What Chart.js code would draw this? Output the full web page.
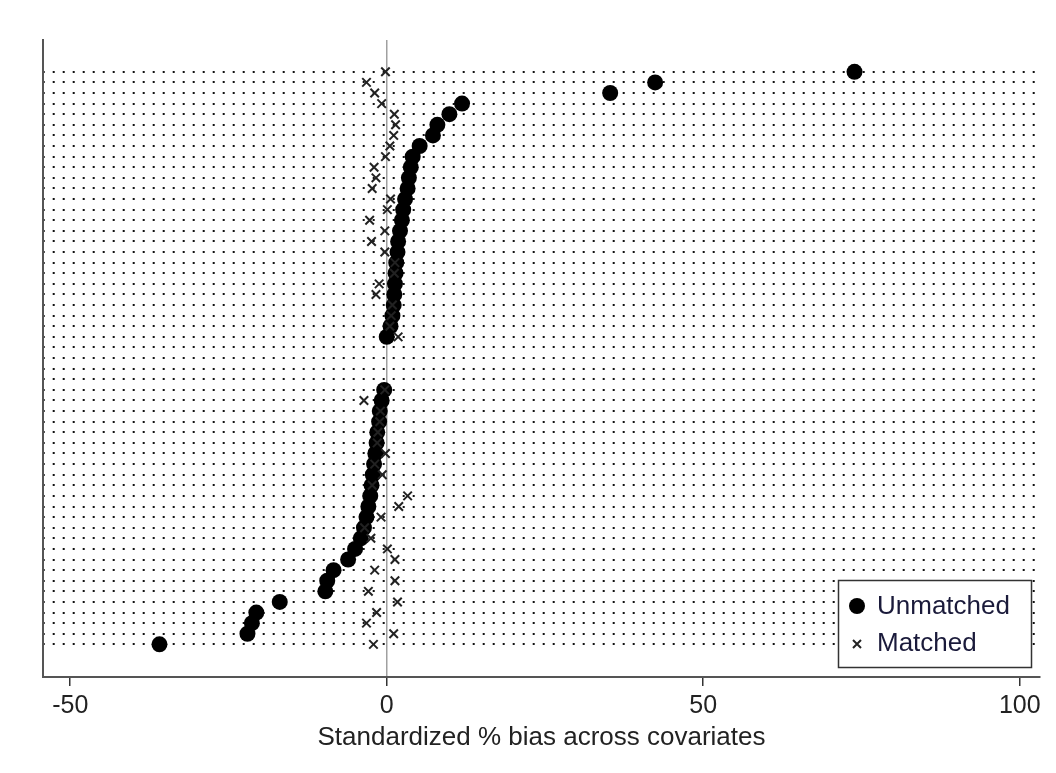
<!DOCTYPE html>
<html>
<head>
<meta charset="utf-8">
<script src="https://cdn.jsdelivr.net/npm/chart.js@4/dist/chart.umd.min.js"></script>
<style>
  body { margin: 0; background: #fff; }
  #wrap { width: 1056px; height: 773px; position: relative; }
</style>
</head>
<body>
<div id="wrap"><canvas id="bias"></canvas></div>
<script>
// standardized % bias per covariate, sorted as in the plot (top row first)
// null = row with no estimate
const unmatched = [73.9, 42.4, 35.3, 11.9, 9.9, 8.0, 7.3, 5.2, 4.1, 3.8,
  3.5, 3.3, 2.9, 2.6, 2.4, 2.1, 1.8, 1.7, 1.5, 1.4,
  1.3, 1.2, 1.1, 0.9, 0.6, 0.0,
  null, null, null, null,
  -0.4, -0.8, -1.1, -1.2, -1.5, -1.6, -1.8, -2.0, -2.2, -2.4,
  -2.6, -2.9, -3.2, -3.6, -4.1, -5.0, -6.1, -8.4, -9.4, -9.7,
  -16.9, -20.6, -21.3, -22.0, -35.9];
const matched = [-0.2, -3.2, -1.9, -0.8, 1.2, 1.4, 1.1, 0.5, -0.2, -2.0,
  -1.7, -2.3, 0.6, 0.1, -2.7, -0.3, -2.4, -0.3, 1.3, 1.2,
  -1.2, -1.7, 0.9, 0.7, 0.5, 1.8,
  null, null, null, null,
  -0.3, -3.6, -1.0, -1.1, -1.4, -1.5, -0.2, -1.9, -0.7, -2.3,
  3.3, 1.9, -0.9, -3.5, -2.5, 0.1, 1.3, -1.9, 1.3, -2.9,
  1.7, -1.6, -3.2, 1.1, -2.1];
const xTicks = [-50, 0, 50, 100];
const seriesNames = ['Unmatched', 'Matched'];
const xTitle = 'Standardized % bias across covariates';

const nRows = unmatched.length;
function toPoints(vals) {
  const pts = [];
  vals.forEach(function (v, i) {
    if (v !== null) pts.push({ x: v, y: nRows - i });
  });
  return pts;
}

Chart.defaults.font.family = '"Liberation Sans", Arial, sans-serif';
Chart.defaults.color = '#222';

// stata style legend box inside the plot region, bottom right
const boxLegend = {
  id: 'boxLegend',
  afterDraw(chart) {
    const ctx = chart.ctx;
    ctx.save();
    ctx.fillStyle = '#fff';
    ctx.fillRect(838, 580, 193, 87);
    ctx.strokeStyle = '#333';
    ctx.lineWidth = 1.5;
    ctx.strokeRect(838.5, 580.5, 193, 87);

    ctx.fillStyle = '#000';
    ctx.beginPath();
    ctx.arc(857, 606, 8, 0, Math.PI * 2);
    ctx.fill();

    ctx.strokeStyle = '#222';
    ctx.lineWidth = 2;
    ctx.beginPath();
    ctx.moveTo(853, 640); ctx.lineTo(861, 648);
    ctx.moveTo(861, 640); ctx.lineTo(853, 648);
    ctx.stroke();

    ctx.fillStyle = '#1a1a3a';
    ctx.font = '26px "Liberation Sans", Arial, sans-serif';
    ctx.textBaseline = 'middle';
    ctx.fillText(seriesNames[0], 877, 607);
    ctx.fillText(seriesNames[1], 877, 644);
    ctx.restore();
  }
};

new Chart(document.getElementById('bias'), {
  type: 'scatter',
  data: {
    datasets: [{
      label: seriesNames[1],
      data: toPoints(matched),
      pointStyle: 'crossRot',
      pointRadius: 6,
      borderColor: '#222',
      borderWidth: 2,
      order: 0
    }, {
      label: seriesNames[0],
      data: toPoints(unmatched),
      pointStyle: 'circle',
      pointRadius: 8,
      backgroundColor: '#000',
      borderWidth: 0,
      order: 1
    }]
  },
  options: {
    responsive: true,
    maintainAspectRatio: false,
    animation: false,
    events: [],
    layout: { padding: { left: 43, right: 16, top: 40, bottom: 0 } },
    plugins: { legend: { display: false }, tooltip: { enabled: false } },
    scales: {
      x: {
        type: 'linear',
        min: -54.3,
        max: 103.2,
        afterBuildTicks: function (s) { s.ticks = xTicks.map(function (v) { return { value: v }; }); },
        afterFit: function (s) { s.height = 96; },
        grid: {
          color: function (c) { return c.tick && c.tick.value === 0 ? '#a0a0a0' : 'rgba(0,0,0,0)'; },
          lineWidth: 1.5,
          tickColor: '#333',
          tickLength: 9,
          tickWidth: 1.5
        },
        border: { color: '#555', width: 2 },
        ticks: { font: { size: 25 }, padding: 5, color: '#222' },
        title: {
          display: true,
          text: xTitle,
          font: { size: 26 },
          color: '#222',
          padding: { top: 0, bottom: 20 }
        }
      },
      y: {
        type: 'linear',
        min: -2.08,
        max: nRows + 3.0,
        afterBuildTicks: function (s) {
          s.ticks = unmatched.map(function (v, i) { return { value: nRows - i }; });
        },
        afterFit: function (s) { s.width = 0; },
        ticks: { display: false },
        grid: { color: '#111', lineWidth: 2, drawTicks: false },
        border: { color: '#555', width: 2, dash: [2, 8], dashOffset: -8.7 }
      }
    }
  },
  plugins: [boxLegend]
});
</script>
</body>
</html>
